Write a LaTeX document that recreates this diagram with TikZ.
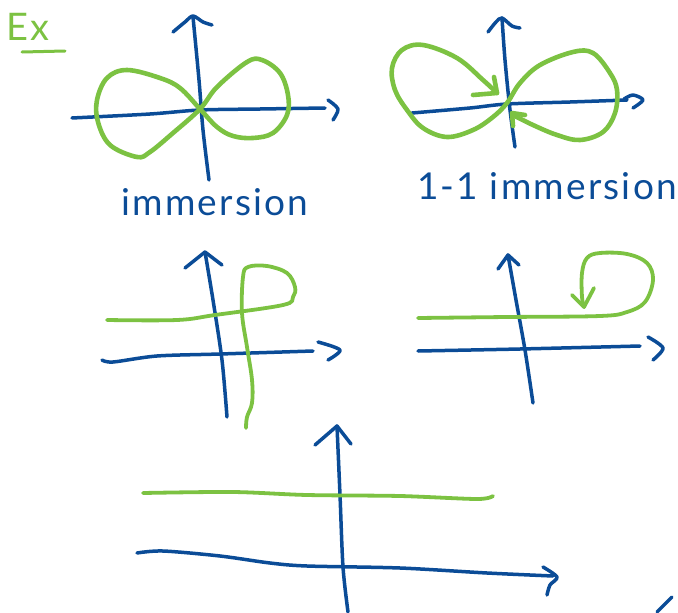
\documentclass[tikz,border=0pt]{standalone}
\usepackage{fontspec}
\setmainfont{Lato}
\newfontfamily\handfont[LetterSpace=6]{Lato}
\definecolor{inkblue}{HTML}{0B4C97}
\definecolor{inkgreen}{HTML}{7CC242}
\begin{document}
\begin{tikzpicture}[x=1pt,y=-1pt, line cap=round, line join=round,
  axis/.style={draw=inkblue, line width=3.5pt},
  curve/.style={draw=inkgreen, line width=4.6pt},
  flat/.style={draw=inkgreen, line width=3.8pt},
  lbl/.style={text=inkblue, font=\handfont\fontsize{37}{40}\selectfont, anchor=base, inner sep=0pt}]
\useasboundingbox (0,0) rectangle (678,613);

% Ex
\node[text=inkgreen, font=\handfont\fontsize{38}{38}\selectfont, anchor=base west, inner sep=0pt] (ex) at (6,40) {Ex};
\coordinate (exa) at (22,52);
\coordinate (exb) at (65,51);
\draw[flat, line width=3pt] (exa) -- (exb);

% ---------- top left ----------
\draw[axis] plot[smooth] coordinates {(209,180) (203,130) (199,80) (193,17)};
\draw[axis] plot[smooth] coordinates {(173,32) (185,22) (193,16) (203,22) (212,25)};
\draw[axis] plot[smooth] coordinates {(72,118) (150,114) (200,110) (260,109) (325,108)};
\draw[axis] plot[smooth] coordinates {(328,100) (338,109) (333,120)};
\draw[curve] plot[smooth cycle, tension=0.6] coordinates {
  (200,109) (217,87) (247,62) (262,60) (280,73) (288,95) (287,115) (273,133) (253,138) (233,136) (217,127)
  (200,109) (180,88) (160,78) (127,70) (107,78) (97,100) (98,122) (110,145) (137,157) (150,152) (173,133)};
\node[lbl] (imm) at (215,215) {immersion};

% ---------- top right ----------
\draw[axis] plot[smooth] coordinates {(515,147) (510,110) (505,60) (502,18)};
\draw[axis] plot[smooth] coordinates {(488,32) (496,22) (502,18) (512,26) (520,28)};
\draw[axis] plot[smooth] coordinates {(412,113) (470,108) (507,104) (570,102) (627,100)};
\draw[axis] plot[smooth] coordinates {(624,99) (633,95) (643,100) (633,108)};
\draw[curve] plot[smooth, tension=0.6] coordinates {
  (497,93) (483,80) (457,58) (423,45) (402,50) (392,68) (395,90) (407,110) (423,128) (447,137) (473,130) (493,117)
  (507,103) (520,83) (540,65) (573,52) (593,53) (610,73) (617,90) (615,113) (603,132) (580,140) (557,135) (533,125) (513,115)};
\draw[curve] (473,95) -- (497,93) -- (494,77);
\draw[curve] (513,126) -- (512,113) -- (525,115);
\node[lbl] (imm11) at (547,199) {1-1 immersion};

% ---------- middle left ----------
\draw[axis] plot[smooth] coordinates {(227,417) (222,360) (213,300) (205,252)};
\draw[axis] (185,268) -- (205,252) -- (222,265);
\draw[axis] plot[smooth] coordinates {(102,360) (113,362) (157,356) (220,354) (313,351)};
\draw[axis] plot[smooth] coordinates {(318,342) (340,350) (328,360)};
\draw[flat] plot[smooth, tension=0.6] coordinates {
  (107,320) (177,320) (215,315) (283,305) (293,297) (295,287) (287,273) (267,266) (248,267) (243,277)
  (242,313) (247,347) (252,380) (252,403) (247,417) (246,428)};

% ---------- middle right ----------
\draw[axis] plot[smooth] coordinates {(533,403) (525,350) (516,300) (508,255)};
\draw[axis] (498,269) -- (508,255) -- (519,265);
\draw[axis] plot[smooth] coordinates {(418,351) (520,349) (640,346)};
\draw[axis] plot[smooth] coordinates {(648,337) (663,348) (653,360)};
\draw[flat] plot[smooth, tension=0.6] coordinates {
  (418,318) (507,317) (600,316) (627,312) (645,302) (653,280) (647,263) (627,254) (600,253) (587,258) (582,273) (582,297) (584,307)};
\draw[flat] (572,295) -- (584,307) -- (594,288);

% ---------- bottom ----------
\draw[axis] plot[smooth] coordinates {(348,612) (343,567) (340,495) (337,426)};
\draw[axis] (315,445) -- (337,426) -- (351,444);
\draw[flat] plot[smooth] coordinates {(143,493) (233,492) (307,495) (400,496) (477,499) (493,496)};
\draw[axis] plot[smooth] coordinates {(137,553) (163,551) (220,556) (270,563) (307,566) (400,568) (487,573) (553,576)};
\draw[axis] plot[smooth] coordinates {(543,567) (557,577) (550,585) (547,595)};
\draw[axis] (657,612) -- (672,597);
\end{tikzpicture}
\end{document}
